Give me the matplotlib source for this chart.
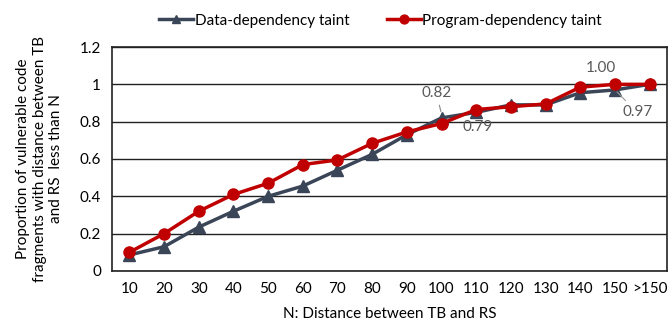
import matplotlib.pyplot as plt

plt.rcParams['font.family'] = ['Lato', 'DejaVu Sans']

categories = ['10', '20', '30', '40', '50', '60', '70', '80', '90', '100',
              '110', '120', '130', '140', '150', '>150']
data_dep = [0.086, 0.13, 0.235, 0.32, 0.40, 0.455, 0.54, 0.625, 0.73, 0.82,
            0.85, 0.89, 0.89, 0.955, 0.97, 1.00]
prog_dep = [0.10, 0.20, 0.32, 0.41, 0.47, 0.57, 0.595, 0.684, 0.745, 0.79,
            0.865, 0.88, 0.895, 0.985, 1.00, 1.00]

dark = '#3A4658'
red = '#C00000'
grey = '#595959'

fig = plt.figure(figsize=(6.68, 3.28), dpi=100)
ax = fig.add_axes([0.1677, 0.1738, 0.8308, 0.6829])

x = list(range(len(categories)))
ax.plot(x, data_dep, color=dark, lw=2.5, marker='^', ms=8, label='Data-dependency taint', zorder=3)
ax.plot(x, prog_dep, color=red, lw=2.5, marker='o', ms=8, label='Program-dependency taint', zorder=4)

ax.set_xlim(-0.5, len(categories) - 0.5)
ax.set_ylim(0, 1.2)
ax.set_yticks([0, 0.2, 0.4, 0.6, 0.8, 1.0, 1.2])
ax.set_yticklabels(['0', '0.2', '0.4', '0.6', '0.8', '1', '1.2'])
ax.set_xticks(x)
ax.set_xticklabels(categories)
ax.tick_params(length=0, labelsize=11, colors='black', pad=8)
ax.grid(axis='y', color='#222222', lw=1.0)
ax.set_axisbelow(True)
for s in ax.spines.values():
    s.set_color('#222222')
    s.set_linewidth(1.2)

ax.set_xlabel('N: Distance between TB and RS', fontsize=11, labelpad=8)
ax.set_ylabel('Proportion of vulnerable code\nfragments with distance between TB\nand RS  less than N',
              fontsize=11, labelpad=12)

# data labels
ax.annotate('%.2f' % data_dep[9], xy=(9, data_dep[9] + 0.02), xytext=(8.85, 0.955),
            ha='center', va='center', fontsize=11, color=grey, zorder=6,
            arrowprops=dict(arrowstyle='-', color='#888888', lw=0.8))
ax.text(10.05, 0.77, '%.2f' % prog_dep[9], ha='center', va='center', fontsize=11, color=grey)
ax.text(13.6, 1.087, '%.2f' % prog_dep[14], ha='center', va='center', fontsize=11, color=grey)
ax.annotate('%.2f' % data_dep[14], xy=(14.06, 0.959), xytext=(14.64, 0.85),
            ha='center', va='center', fontsize=11, color=grey, zorder=6,
            arrowprops=dict(arrowstyle='-', color='#999999', lw=0.8, shrinkA=2, shrinkB=0))

fig.legend(loc='upper center', bbox_to_anchor=(0.57, 1.0), ncol=2, frameon=False,
           fontsize=11, handlelength=2.2, handletextpad=0.1, columnspacing=2.5, markerscale=0.8)

fig.savefig('out.png', dpi=100)
